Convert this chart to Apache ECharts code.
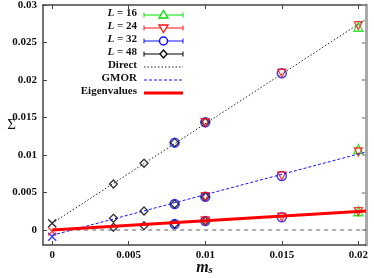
<!DOCTYPE html>
<html><head><meta charset="utf-8">
<script src="https://cdn.jsdelivr.net/npm/echarts@6/dist/echarts.min.js"></script>
<style>html,body{margin:0;padding:0;background:#fff}#c{width:374px;height:278px}</style>
</head><body><div id="c"></div>
<script>
// ---- data ----
const xTicks = [0, 0.005, 0.01, 0.015, 0.02];
const yTicks = [0, 0.005, 0.01, 0.015, 0.02, 0.025, 0.03];
// quantities per L: [Direct, GMOR, Eigenvalues]
const xL16 = [0.02];
const directL16 = [0.0271];
const gmorL16 = [0.0108];
const eigL16 = [0.0025];
const xL24 = [0.01, 0.015, 0.02];
const directL24 = [0.0143, 0.0209, 0.02725];
const gmorL24 = [0.00444, 0.0072, 0.0104];
const eigL24 = [0.0012, 0.0017, 0.00245];
const xL32 = [0.008, 0.01, 0.015];
const directL32 = [0.01165, 0.01436, 0.0209];
const gmorL32 = [0.00347, 0.00444, 0.0072];
const eigL32 = [0.0008, 0.0012, 0.0017];
const xL48 = [0.004, 0.006, 0.008, 0.01];
const directL48 = [0.00613, 0.0089, 0.01165, 0.01436];
const gmorL48 = [0.00156, 0.00253, 0.00347, 0.00444];
const eigL48 = [0.00036, 0.00058, 0.0008, 0.0012];
// fit lines (endpoints) and chiral-limit extrapolations
const fitX = [0, 0.0205];
const directFit = [0.0009, 0.0281];
const gmorFit = [-0.0007, 0.0104];
const eigFit = [0.0, 0.00252];
const extrapX = [0];
const directExtrap = [0.0009];
const gmorExtrap = [-0.0009];
const eigExtrap = [-0.0002];
const zeroLineX = [0, 0.0205];
const legendNames = ['L = 16', 'L = 24', 'L = 32', 'L = 48', 'Direct', 'GMOR', 'Eigenvalues'];

function pts(xs, ...ys) { const out = []; ys.forEach(a => a.forEach((v, i) => out.push([xs[i], v]))); return out; }
function pairs(xs, ys) { return xs.map((x, i) => [x, ys[i]]); }

const X = 'path://M0,0L10,10M10,0L0,10';
const FONT = 'Liberation Serif';
const fmt = v => String(+(+v).toFixed(3));

const chart = echarts.init(document.getElementById('c'), null, {renderer: 'canvas'});
const grid = {left: 43, right: 8, top: 5, bottom: 33, containLabel: false, outerBoundsMode: 'none'};
const opt = {
  animation: false,
  grid: grid,
  xAxis: [{
    type: 'value', min: -0.0006, max: 0.0205, position: 'bottom',
    axisLine: {show: true, onZero: false, lineStyle: {color: '#444', width: 1.5}},
    axisTick: {show: true, inside: true, length: 4, customValues: xTicks, lineStyle: {color: '#444'}},
    axisLabel: {customValues: xTicks, formatter: fmt, color: '#111', fontFamily: FONT, fontWeight: 'bold', fontSize: 11, margin: 5},
    splitLine: {show: false},
    name: '{m|m}{s|s}', nameLocation: 'middle', nameGap: 14, nameMoveOverlap: false,
    nameTextStyle: {rich: {
      m: {fontFamily: FONT, fontStyle: 'italic', fontWeight: 'bold', fontSize: 16, color: '#111'},
      s: {fontFamily: FONT, fontStyle: 'italic', fontWeight: 'bold', fontSize: 11, color: '#111', verticalAlign: 'bottom', padding: [6, 0, 0, 0]}
    }}
  }, {
    type: 'value', min: -0.0006, max: 0.0205, position: 'top',
    axisLine: {show: true, onZero: false, lineStyle: {color: '#444', width: 1.5}},
    axisTick: {show: true, inside: true, length: 4, customValues: xTicks, lineStyle: {color: '#444'}},
    axisLabel: {show: false}, splitLine: {show: false}
  }],
  yAxis: [{
    type: 'value', min: -0.002, max: 0.03, position: 'left',
    axisLine: {show: true, onZero: false, lineStyle: {color: '#444', width: 1.5}},
    axisTick: {show: true, inside: true, length: 4, customValues: yTicks, lineStyle: {color: '#444'}},
    axisLabel: {customValues: yTicks, formatter: fmt, color: '#111', fontFamily: FONT, fontWeight: 'bold', fontSize: 11, margin: 6},
    splitLine: {show: false},
    name: 'Σ', nameLocation: 'middle', nameGap: 27, nameRotate: 0, nameMoveOverlap: false,
    nameTextStyle: {fontFamily: FONT, fontSize: 15, color: '#111'}
  }, {
    type: 'value', min: -0.002, max: 0.03, position: 'right',
    axisLine: {show: true, onZero: false, lineStyle: {color: '#aaa', width: 3}},
    axisTick: {show: true, inside: true, length: 4, customValues: yTicks, lineStyle: {color: '#999', width: 1.5}},
    axisLabel: {show: false}, splitLine: {show: false}
  }],
  series: [
    {type: 'line', data: pairs(zeroLineX, [0, 0]), symbol: 'none', lineStyle: {color: '#333', width: 0.8, type: [4, 4]}, silent: true},
    {type: 'line', data: pairs(fitX, directFit), symbol: 'none', lineStyle: {color: '#222', width: 1, type: [1.5, 2]}},
    {type: 'line', data: pairs(fitX, gmorFit), symbol: 'none', lineStyle: {color: '#1010ff', width: 1, type: [3, 2]}},
    {type: 'line', data: pairs(fitX, eigFit), symbol: 'none', lineStyle: {color: '#ff0000', width: 3}},
    {type: 'scatter', data: pairs(extrapX, directExtrap), symbol: X, symbolSize: 8, itemStyle: {color: 'none', borderColor: '#000', borderWidth: 1.5}},
    {type: 'scatter', data: pairs(extrapX, gmorExtrap), symbol: X, symbolSize: 8, itemStyle: {color: 'none', borderColor: '#1010ff', borderWidth: 1.5}},
    {type: 'scatter', data: pairs(extrapX, eigExtrap), symbol: X, symbolSize: 8, itemStyle: {color: 'none', borderColor: '#ff2020', borderWidth: 1.5}},
    {name: 'L = 16', type: 'scatter', data: pts(xL16, directL16, gmorL16, eigL16), symbol: 'triangle', symbolSize: 9, itemStyle: {color: 'none', borderColor: '#00e000', borderWidth: 1.3}},
    {name: 'L = 32', type: 'scatter', data: pts(xL32, directL32, gmorL32, eigL32), symbol: 'circle', symbolSize: 9, itemStyle: {color: 'none', borderColor: '#1010ff', borderWidth: 1.5}},
    {name: 'L = 48', type: 'scatter', data: pts(xL48, directL48, gmorL48, eigL48), symbol: 'diamond', symbolSize: 8, itemStyle: {color: 'none', borderColor: '#000', borderWidth: 1.3}},
    {name: 'L = 24', type: 'scatter', data: pts(xL24, directL24, gmorL24, eigL24), symbol: 'triangle', symbolRotate: 180, symbolSize: 8, itemStyle: {color: 'none', borderColor: '#ff1010', borderWidth: 1.3}}
  ],
  graphic: []
};

// legend drawn with graphics (positions only, no data)
const legColors = ['#00e000', '#ff1010', '#1010ff', '#000', '#222', '#1010ff', '#ff0000'];
const legY0 = 15, legDy = 13, txtRight = 137, lx0 = 144, lx1 = 183;
const g = [];
legendNames.forEach((nm, i) => {
  const y = legY0 + i * legDy;
  const isL = i < 4;
  g.push({type: 'text', right: 374 - txtRight, top: y - 7, style: {
    text: isL ? '{i|L} = ' + nm.split(' = ')[1] : nm,
    font: 'bold 11px ' + FONT, fill: '#111', textAlign: 'right',
    rich: {i: {fontStyle: 'italic', fontWeight: 'bold', fontFamily: FONT, fontSize: 11, fill: '#111'}}
  }});
  let ls;
  if (i < 4) ls = {stroke: legColors[i], lineWidth: 1};
  else if (i === 4) ls = {stroke: legColors[i], lineWidth: 1, lineDash: [1.5, 2]};
  else if (i === 5) ls = {stroke: legColors[i], lineWidth: 1, lineDash: [3, 2]};
  else ls = {stroke: legColors[i], lineWidth: 3};
  g.push({type: 'line', shape: {x1: lx0, y1: y, x2: lx1, y2: y}, style: ls});
  if (isL) {
    g.push({type: 'line', shape: {x1: lx0, y1: y - 2.5, x2: lx0, y2: y + 2.5}, style: {stroke: legColors[i], lineWidth: 1}});
    g.push({type: 'line', shape: {x1: lx1, y1: y - 2.5, x2: lx1, y2: y + 2.5}, style: {stroke: legColors[i], lineWidth: 1}});
    const cx = (lx0 + lx1) / 2;
    if (i === 0) g.push({type: 'polygon', shape: {points: [[cx, y - 4.5], [cx - 4.5, y + 3], [cx + 4.5, y + 3]]}, style: {fill: '#fff', stroke: legColors[i], lineWidth: 1.3}});
    if (i === 1) g.push({type: 'polygon', shape: {points: [[cx, y + 4.5], [cx - 4.5, y - 3], [cx + 4.5, y - 3]]}, style: {fill: '#fff', stroke: legColors[i], lineWidth: 1.3}});
    if (i === 2) g.push({type: 'circle', shape: {cx: cx, cy: y, r: 4}, style: {fill: '#fff', stroke: legColors[i], lineWidth: 1.5}});
    if (i === 3) g.push({type: 'polygon', shape: {points: [[cx, y - 4], [cx + 3.5, y], [cx, y + 4], [cx - 3.5, y]]}, style: {fill: '#fff', stroke: legColors[i], lineWidth: 1.3}});
  }
});
opt.graphic = g;
chart.setOption(opt);
</script></body></html>
